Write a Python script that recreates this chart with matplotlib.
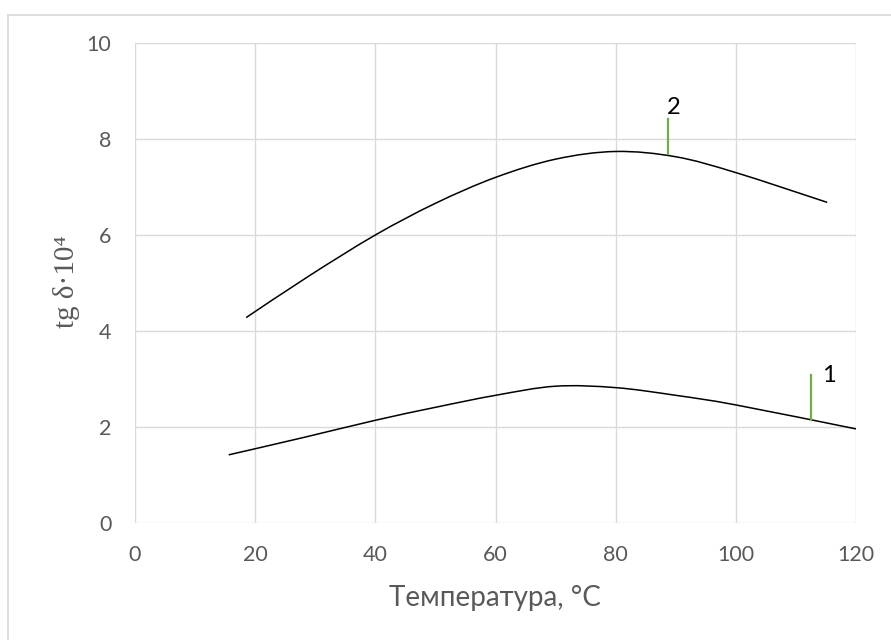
import matplotlib
matplotlib.use("Agg")
import matplotlib.pyplot as plt
from matplotlib.lines import Line2D
from matplotlib.path import Path
from matplotlib.patches import PathPatch

# Data
temp_2 = [18.5, 29, 40, 50, 60, 70, 80, 90, 100, 115.2]
tgd_2 = [4.28, 5.15, 6.0, 6.66, 7.2, 7.58, 7.74, 7.63, 7.3, 6.68]

temp_1 = [15.6, 28, 40, 50, 60, 70, 80, 90, 100, 120]
tgd_1 = [1.42, 1.78, 2.14, 2.41, 2.66, 2.85, 2.82, 2.66, 2.46, 1.96]

# curve labels: marker line x, y-bottom, y-top, label text and position
label_names = ["1", "2"]
marker_x = [112.5, 88.7]
marker_y0 = [2.15, 7.68]
marker_y1 = [3.08, 8.42]
label_x = [115.5, 89.7]
label_y = [3.08, 8.65]

xticks = [0, 20, 40, 60, 80, 100, 120]
yticks = [0, 2, 4, 6, 8, 10]


def smooth_path(xs, ys, t=1 / 6):
    """Excel-like smoothed line: Catmull-Rom segments as cubic Bezier curves."""
    n = len(xs)
    verts = [(xs[0], ys[0])]
    codes = [Path.MOVETO]
    for i in range(n - 1):
        x0, y0 = (xs[i - 1], ys[i - 1]) if i > 0 else (xs[i], ys[i])
        x1, y1 = xs[i], ys[i]
        x2, y2 = xs[i + 1], ys[i + 1]
        x3, y3 = (xs[i + 2], ys[i + 2]) if i + 2 < n else (xs[i + 1], ys[i + 1])
        c1 = (x1 + (x2 - x0) * t, y1 + (y2 - y0) * t)
        c2 = (x2 - (x3 - x1) * t, y2 - (y3 - y1) * t)
        verts += [c1, c2, (x2, y2)]
        codes += [Path.CURVE4] * 3
    return Path(verts, codes)


W, H = 891, 640
fig = plt.figure(figsize=(W / 100, H / 100), dpi=100)
fig.patch.set_facecolor("white")

grid_c = "#D9D9D9"
text_c = "#595959"

# outer chart border (left and top visible)
fig.add_artist(Line2D([8 / W, 8 / W], [0, 1 - 15 / H], color=grid_c, lw=1.2, transform=fig.transFigure))
fig.add_artist(Line2D([8 / W, 1], [1 - 15 / H, 1 - 15 / H], color=grid_c, lw=1.2, transform=fig.transFigure))

ax = fig.add_axes([135 / W, 1 - 523 / H, (856 - 135) / W, (523 - 43) / H])
ax.set_xlim(0, 120)
ax.set_ylim(0, 10)
ax.set_xticks(xticks)
ax.set_yticks(yticks)
ax.grid(True, color=grid_c, lw=1.0)
ax.set_axisbelow(True)
for s in ax.spines.values():
    s.set_visible(False)
ax.tick_params(length=0, labelcolor=text_c, labelsize=15.5)
ax.tick_params(axis="y", pad=17)
ax.tick_params(axis="x", pad=16)
for lab in ax.get_xticklabels() + ax.get_yticklabels():
    lab.set_fontfamily("Lato")

for xs, ys in [(temp_1, tgd_1), (temp_2, tgd_2)]:
    ax.add_patch(PathPatch(smooth_path(xs, ys), facecolor="none", edgecolor="black",
                           lw=1.1, clip_on=False, capstyle="butt"))

for name, mx, y0, y1, lx, ly in zip(label_names, marker_x, marker_y0, marker_y1, label_x, label_y):
    ax.plot([mx, mx], [y0, y1], color="#70AD47", lw=1.6)
    ax.text(lx, ly, name, fontsize=17, family="Lato", color="black", ha="center", va="center")

fig.text(495 / W, 1 - 598 / H, "Температура, °C", fontsize=20, family="Lato",
         color=text_c, ha="center", va="center")
fig.text(66 / W, 1 - 282 / H, "tg δ·10⁴", fontsize=21, family=["Liberation Serif", "DejaVu Serif"],
         color=text_c, ha="center", va="center", rotation=90)

fig.savefig("out.png", dpi=100)
